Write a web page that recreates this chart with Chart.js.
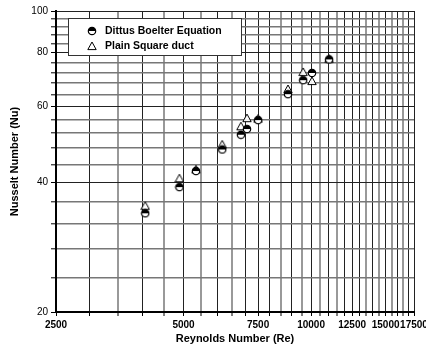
<!DOCTYPE html>
<html>
<head>
<meta charset="utf-8">
<script src="https://cdn.jsdelivr.net/npm/chart.js@4.4.0/dist/chart.umd.min.js"></script>
<style>
  html, body { margin: 0; padding: 0; background: #fff; }
  #wrap { width: 426px; height: 358px; position: relative; }
</style>
</head>
<body>
<div id="wrap"><canvas id="chart" width="426" height="358"></canvas></div>
<script>
// -- Data --
const reynolds = [4060, 4890, 5350, 6170, 6830, 7060, 7500, 8820, 9580, 10050, 11030];
const nuDittus = [33.9, 39.0, 42.5, 47.7, 51.6, 53.2, 55.8, 64.1, 69.1, 71.8, 77.2];
const nuPlain  = [35.3, 40.9, 42.9, 49.0, 54.0, 56.4, 56.3, 65.9, 72.2, 68.8, 77.5];
const seriesNames = ['Dittus Boelter Equation', 'Plain Square duct'];

// tick / grid values
const xLabels = [2500, 5000, 7500, 10000, 12500, 15000, 17500];
const yLabels = [20, 40, 60, 80, 100];
const xGrid = [];
for (let v = 2500; v <= 17500; v += 500) xGrid.push(v);
const yGrid = [];
for (let v = 20; v <= 100; v += 4) yGrid.push(v);

const FONT = 'Liberation Sans, Arial, sans-serif';

// -- Marker images --
function circleMarker() {
    const c = document.createElement('canvas');
    c.width = 10; c.height = 10;
    const g = c.getContext('2d');
    g.beginPath();
    g.arc(5, 5, 3.7, 0, Math.PI * 2);
    g.fillStyle = '#fff';
    g.fill();
    g.beginPath();
    g.arc(5, 5, 3.7, Math.PI, 0);
    g.closePath();
    g.fillStyle = '#000';
    g.fill();
    g.beginPath();
    g.arc(5, 5, 3.7, 0, Math.PI * 2);
    g.lineWidth = 1.2;
    g.strokeStyle = '#000';
    g.stroke();
    return c;
}

function triangleMarker() {
    const c = document.createElement('canvas');
    c.width = 10; c.height = 10;
    const g = c.getContext('2d');
    g.beginPath();
    g.moveTo(5, 1);
    g.lineTo(9.2, 8.6);
    g.lineTo(0.8, 8.6);
    g.closePath();
    g.fillStyle = 'rgba(255,255,255,0.9)';
    g.fill();
    g.lineWidth = 1;
    g.strokeStyle = '#000';
    g.stroke();
    return c;
}

const circleImg = circleMarker();
const triImg = triangleMarker();

// -- Legend drawn inside the plot --
const boxLegend = {
    id: 'boxLegend',
    afterDraw(chart) {
        const ctx = chart.ctx;
        ctx.save();
        ctx.fillStyle = '#fff';
        ctx.fillRect(68.5, 18.5, 173, 37);
        ctx.strokeStyle = '#333';
        ctx.lineWidth = 1;
        ctx.strokeRect(68.5, 18.5, 173, 37);
        ctx.drawImage(circleImg, 87, 26);
        ctx.drawImage(triImg, 87, 41);
        ctx.fillStyle = '#000';
        ctx.font = 'bold 10.5px ' + FONT;
        ctx.textBaseline = 'middle';
        ctx.fillText(seriesNames[0], 105, 31);
        ctx.fillText(seriesNames[1], 105, 46);
        ctx.restore();
    }
};

function xGridColor(ctx) {
    const v = ctx.tick && ctx.tick.value;
    return (v % 1000 === 0 || v % 2500 === 0) ? '#222' : '#999';
}
function xGridWidth(ctx) {
    const v = ctx.tick && ctx.tick.value;
    return (v % 1000 === 0 || v % 2500 === 0) ? 1 : 2;
}
function yGridColor(ctx) {
    const v = ctx.tick && ctx.tick.value;
    return yLabels.includes(v) ? '#222' : '#777';
}
function yGridWidth(ctx) {
    const v = ctx.tick && ctx.tick.value;
    return yLabels.includes(v) ? 1 : 1.6;
}

const chart = new Chart(document.getElementById('chart'), {
    type: 'scatter',
    data: {
        datasets: [
            {
                label: seriesNames[0],
                data: reynolds.map((x, i) => ({ x: x, y: nuDittus[i] })),
                pointStyle: circleImg,
                pointRadius: 5
            },
            {
                label: seriesNames[1],
                data: reynolds.map((x, i) => ({ x: x, y: nuPlain[i] })),
                pointStyle: triImg,
                pointRadius: 5
            }
        ]
    },
    options: {
        responsive: false,
        animation: false,
        events: [],
        layout: { padding: { top: 11, right: 12, left: 0, bottom: 0 } },
        plugins: {
            legend: { display: false },
            tooltip: { enabled: false }
        },
        scales: {
            x: {
                type: 'logarithmic',
                min: 2500,
                max: 17500,
                afterBuildTicks: (scale) => { scale.ticks = xGrid.map(v => ({ value: v })); },
                afterFit: (scale) => { scale.height = 46; scale.paddingLeft = 0; scale.paddingRight = 0; },
                ticks: {
                    autoSkip: false,
                    maxRotation: 0,
                    padding: 3,
                    color: '#000',
                    font: { family: FONT, size: 10, weight: 'bold' },
                    callback: (v) => xLabels.includes(v) ? String(v) : ''
                },
                grid: { color: xGridColor, lineWidth: xGridWidth, tickLength: 4, tickColor: '#000', tickWidth: 1 },
                border: { color: '#000', width: 2 },
                title: {
                    display: true,
                    text: 'Reynolds Number (Re)',
                    color: '#000',
                    font: { family: FONT, size: 11, weight: 'bold' },
                    padding: { top: 0, bottom: 12 }
                }
            },
            y: {
                type: 'logarithmic',
                min: 20,
                max: 100,
                afterBuildTicks: (scale) => { scale.ticks = yGrid.map(v => ({ value: v })); },
                afterFit: (scale) => { scale.width = 56; scale.paddingTop = 0; scale.paddingBottom = 0; },
                ticks: {
                    autoSkip: false,
                    padding: 3,
                    color: '#000',
                    font: { family: FONT, size: 10 },
                    callback: (v) => yLabels.includes(v) ? String(v) : ''
                },
                grid: { color: yGridColor, lineWidth: yGridWidth, tickLength: 5, tickColor: '#000', tickWidth: 1 },
                border: { color: '#000', width: 2 },
                title: {
                    display: true,
                    text: 'Nusselt Number (Nu)',
                    color: '#000',
                    font: { family: FONT, size: 11, weight: 'bold' },
                    padding: { top: 8, bottom: 0 }
                }
            }
        }
    },
    plugins: [boxLegend]
});
</script>
</body>
</html>
